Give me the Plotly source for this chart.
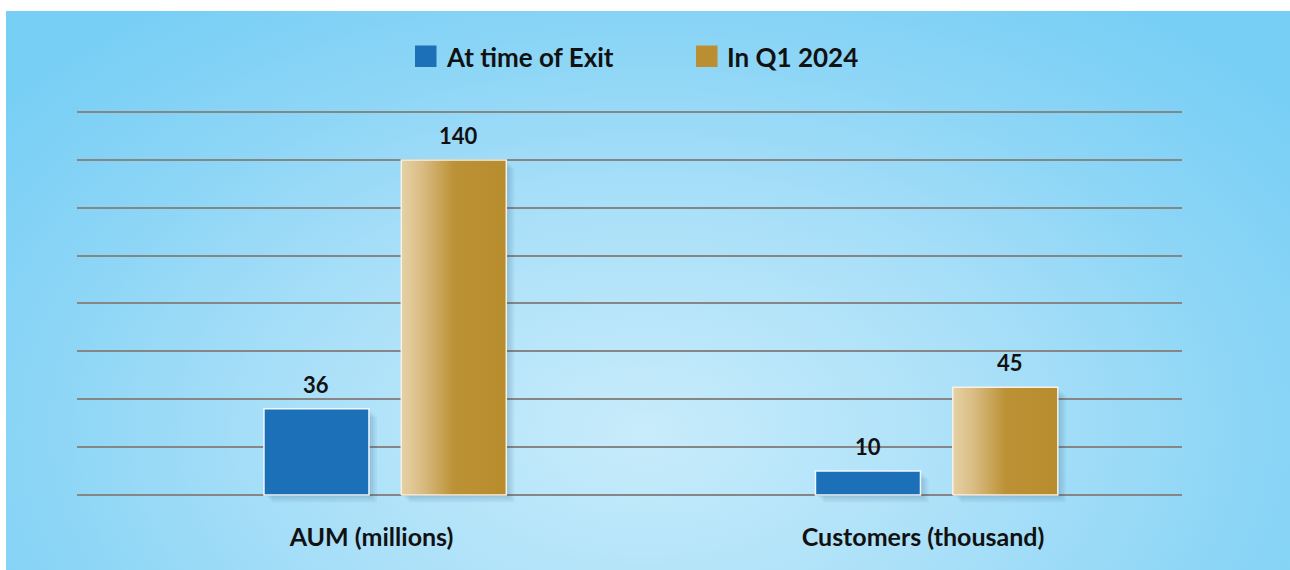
import plotly.graph_objects as go

# ---- data ----
categories = ["AUM (millions)", "Customers (thousand)"]
series_names = ["At time of Exit", "In Q1 2024"]
exit_values = [36, 10]
q1_2024_values = [140, 45]
y_ticks = list(range(0, 161, 20))

# ---- styling ----
W, H = 1290, 570
BLUE = "#1c70b8"
GOLD = "#b98f31"
GOLD_SCALE = [[0.0, "#e6d1a6"], [0.2, "#d9bc83"], [0.5, "#bc9236"], [1.0, "#b78c2d"]]
FONT = "Lato"
TXT = "#111111"

BAR_W = 0.1904
OFF_EXIT = -0.195
OFF_Q1 = 0.054

# plot-area geometry (pixels) and value range
PLOT_LEFT, PLOT_RIGHT = 77, 1182
Y_MIN, Y_MAX = -4, 161
PX_PER_UNIT_Y = 383 / 160
Y_BOTTOM_PX = 495 + (0 - Y_MIN) * PX_PER_UNIT_Y
Y_TOP_PX = 112 - (Y_MAX - 160) * PX_PER_UNIT_Y
PX_PER_UNIT_X = 551.5


def px(xp):
    return xp / W


def py(yp):
    return 1 - yp / H


fig = go.Figure()

# soft radial background on a full-canvas helper subplot
bg_cx, bg_cy = 645, 430  # glow centre, pixels from top-left
half_w, half_h = 820, 520
bg_x = [bg_cx - half_w, bg_cx + half_w, bg_cx + half_w, bg_cx - half_w, bg_cx - half_w]
bg_y = [H - (bg_cy - half_h), H - (bg_cy - half_h), H - (bg_cy + half_h), H - (bg_cy + half_h), H - (bg_cy - half_h)]
fig.add_trace(go.Scatter(
    x=bg_x, y=bg_y, mode="lines", fill="toself",
    line=dict(width=0, color="rgba(0,0,0,0)"),
    fillgradient=dict(type="radial", colorscale=[[0, "#c8ecfb"], [0.45, "#a8dff8"], [0.75, "#8bd5f6"], [1, "#78cff5"]]),
    hoverinfo="skip", showlegend=False, xaxis="x", yaxis="y",
))

# soft drop shadows behind every bar (bar layer, so they sit under the bars)
dx = 1 / PX_PER_UNIT_X
dy = 1 / PX_PER_UNIT_Y
for vals, off in ((exit_values, OFF_EXIT), (q1_2024_values, OFF_Q1)):
    for step in (2, 4, 6, 8):
        bases = [-step * 0.9 * dy for _ in vals]
        heights = [v - step * dy - b for v, b in zip(vals, bases)]
        fig.add_trace(go.Bar(
            x=[0, 1], y=heights, base=bases,
            width=BAR_W, offset=off + step * dx,
            marker=dict(color="rgba(20,60,100,0.05)", line=dict(width=0)),
            hoverinfo="skip", showlegend=False, xaxis="x2", yaxis="y2",
        ))

# blue bars
fig.add_trace(go.Bar(
    x=[0, 1], y=exit_values, name=series_names[0],
    width=BAR_W, offset=OFF_EXIT,
    marker=dict(color=BLUE, line=dict(color="#eef8ff", width=1.5)),
    xaxis="x2", yaxis="y2", showlegend=False,
))

# gold bars with a left-to-right sheen
for i, v in enumerate(q1_2024_values):
    x0 = i + OFF_Q1
    x1 = x0 + BAR_W
    fig.add_trace(go.Scatter(
        x=[x0, x1, x1, x0, x0], y=[0, 0, v, v, 0],
        mode="lines", fill="toself",
        line=dict(color="#f7f2e6", width=1.5),
        fillgradient=dict(type="horizontal", colorscale=GOLD_SCALE),
        name=series_names[1], showlegend=False, hoverinfo="name+y",
        xaxis="x2", yaxis="y2",
    ))

# value labels
annotations = []
for vals, off, nudge in ((exit_values, OFF_EXIT, 0), (q1_2024_values, OFF_Q1, 5)):
    for i, v in enumerate(vals):
        annotations.append(dict(
            x=i + off + BAR_W / 2, y=v, xref="x2", yref="y2",
            text=f"{v}", showarrow=False, yanchor="bottom", yshift=9, xshift=nudge,
            font=dict(family=FONT, size=22, color=TXT, weight="bold"),
        ))

# legend drawn in paper space
shapes = []
legend_items = [(series_names[0], BLUE, 415, 444), (series_names[1], GOLD, 696, 725)]
for name, col, sx, tx in legend_items:
    shapes.append(dict(type="rect", xref="paper", yref="paper",
                       x0=px(sx), x1=px(sx + 21.5), y0=py(67), y1=py(45.5),
                       fillcolor=col, line=dict(width=0)))
    annotations.append(dict(
        x=px(tx), y=py(57), xref="paper", yref="paper", xanchor="left", yanchor="middle",
        text=name, showarrow=False,
        font=dict(family=FONT, size=26, color=TXT, weight="bold"),
    ))

fig.update_layout(
    width=W, height=H,
    margin=dict(l=0, r=0, t=0, b=0),
    paper_bgcolor="white",
    plot_bgcolor="rgba(0,0,0,0)",
    showlegend=False,
    barmode="overlay",
    xaxis=dict(domain=[px(6), 1], range=[6, W], visible=False, fixedrange=True),
    yaxis=dict(domain=[0, py(11)], range=[0, H - 11], visible=False, fixedrange=True),
    xaxis2=dict(
        domain=[px(PLOT_LEFT), px(PLOT_RIGHT)], range=[-0.534, 1.4696], anchor="y2",
        tickvals=[0, 1], ticktext=categories, showgrid=False, zeroline=False,
        showline=False, ticks="outside", ticklen=10, tickcolor="rgba(0,0,0,0)",
        tickfont=dict(family=FONT, size=25, color=TXT, weight="bold"),
    ),
    yaxis2=dict(
        domain=[py(Y_BOTTOM_PX), py(Y_TOP_PX)], range=[Y_MIN, Y_MAX], anchor="x2",
        tickvals=y_ticks, showticklabels=False, showgrid=True,
        gridcolor="#868686", gridwidth=2, zeroline=False, showline=False,
    ),
    shapes=shapes,
    annotations=annotations,
)

fig.write_html("out.html")
